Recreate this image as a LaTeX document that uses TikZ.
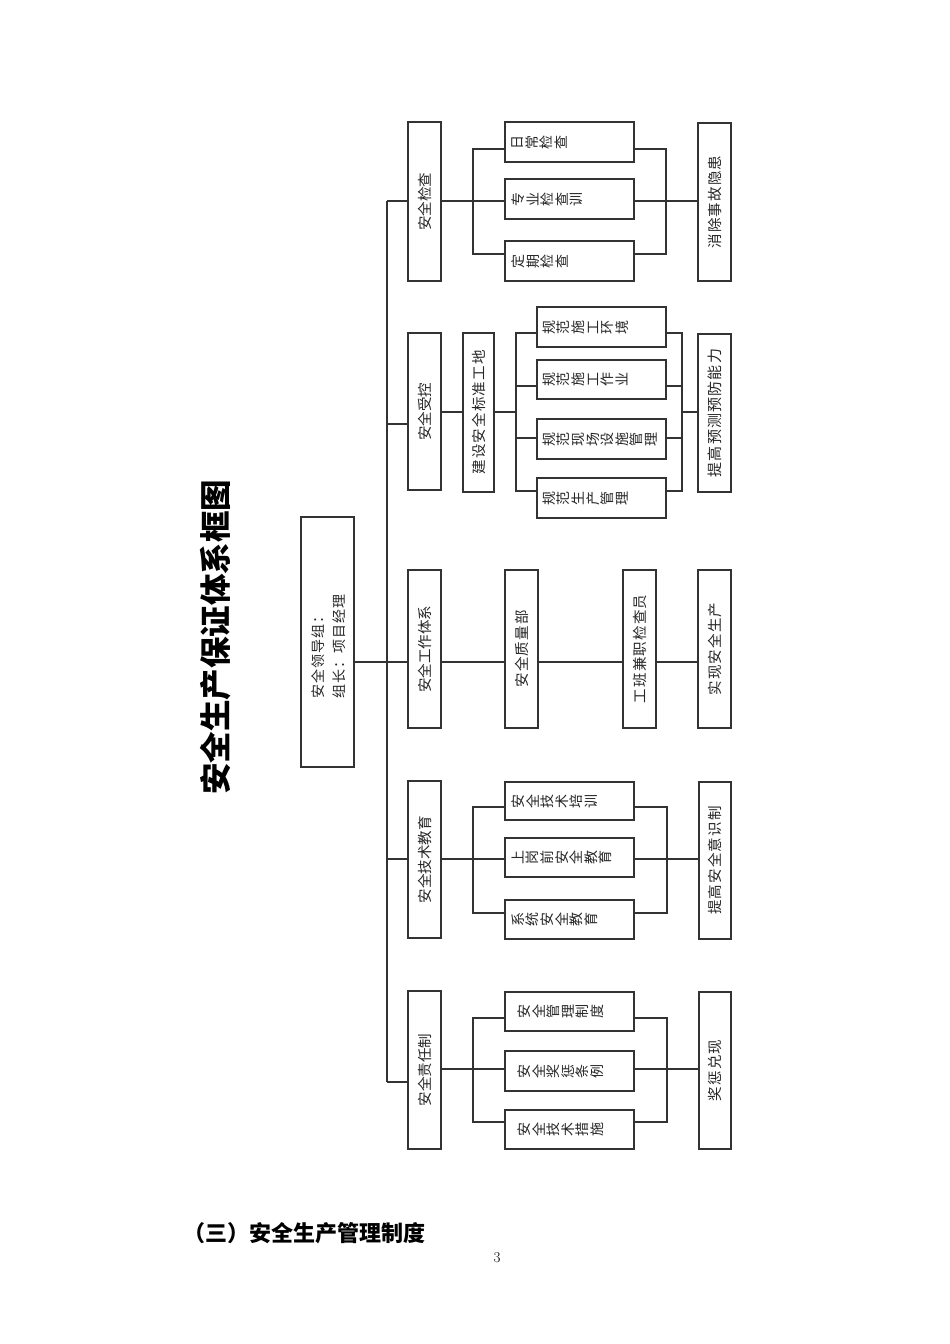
\documentclass[tikz,border=0pt]{standalone}
\usepackage{fontspec}
\usetikzlibrary{calc}
\newfontfamily\cjk{Noto Sans CJK SC}
\newfontfamily\cjkls{Noto Sans CJK SC}[LetterSpace=8]
\newcommand\bx[5]{\node[box, minimum width={#4-#2}, minimum height={#5-#3}] (#1) at ({(#2+#4)/2},{(#3+#5)/2}) {};}
\newcommand\stk[3]{\node[stk, anchor=north] (#1t) at ($(#1.west)+(#2,0)$) {#3};}
\tikzset{
  box/.style={draw=black!80, line width=1.1pt, inner sep=0pt, fill=white},
  rd/.style={rotate=90, inner sep=0pt, font=\cjk\fontsize{14.5}{14.5}\selectfont, text=black!85},
  rdl/.style={rotate=90, inner sep=0pt, font=\cjkls\fontsize{14.5}{14.5}\selectfont, text=black!85},
  stk/.style={rotate=90, inner sep=0pt, align=center, font=\cjk\fontsize{14}{14.6}\selectfont, text=black!85},
  ln/.style={draw=black!80, line width=1.1pt}
}
\begin{document}
\begin{tikzpicture}[x=1pt, y=-1pt]
\fill[white] (0,0) rectangle (950,1344);
\useasboundingbox (0,0) rectangle (950,1344);

% title
\node[rotate=90, inner sep=0pt, font=\cjk\bfseries\fontsize{31.5}{31.5}\selectfont] (title) at (216,637) {安全生产保证体系框图};

% leader
\bx{lead}{301}{517}{354}{767}
\node[rotate=90, align=left, anchor=west, inner sep=0pt, font=\cjkls\fontsize{14}{21}\selectfont, text=black!85] (leadt) at (328.5,699) {安全领导组：\\组长：项目经理};

% level 1
\bx{jc}{408}{122}{441}{281}
\bx{sk}{408}{333}{441}{490}
\bx{gz}{408}{570}{441}{728}
\bx{jy}{408}{781}{441}{938}
\bx{zr}{408}{991}{441}{1149}
\node[rd] (jct) at (jc) {安全检查};
\node[rd] (skt) at (sk) {安全受控};
\node[rd] (gzt) at (gz) {安全工作体系};
\node[rd] (jyt) at (jy) {安全技术教育};
\node[rd] (zrt) at (zr) {安全责任制};

% safety check group
\bx{jc1}{505}{122}{634}{162}
\bx{jc2}{505}{179}{634}{219}
\bx{jc3}{505}{241}{634}{281}
\stk{jc1}{7}{日\\常\\检\\查}
\stk{jc2}{7}{专\\业\\检\\查\\训}
\stk{jc3}{7}{定\\期\\检\\查}

% safety control group
\bx{jb}{463}{333}{494}{492}
\node[rdl] (jbt) at (jb) {建设安全标准工地};
\bx{sk1}{537}{307}{666}{347}
\bx{sk2}{537}{360}{666}{399}
\bx{sk3}{537}{419}{666}{459}
\bx{sk4}{537}{478}{666}{518}
\stk{sk1}{6}{规\\范\\施\\工\\环\\境}
\stk{sk2}{6}{规\\范\\施\\工\\作\\业}
\stk{sk3}{6}{规\\范\\现\\场\\设\\施\\管\\理}
\stk{sk4}{6}{规\\范\\生\\产\\管\\理}

% work system group
\bx{gq}{505}{570}{538}{728}
\bx{gb}{623}{570}{656}{728}
\node[rdl] (gqt) at (gq) {安全质量部};
\node[rdl] (gbt) at (gb) {工班兼职检查员};

% education group
\bx{jy1}{505}{782}{634}{820}
\bx{jy2}{505}{838}{634}{877}
\bx{jy3}{505}{900}{634}{939}
\stk{jy1}{7}{安\\全\\技\\术\\培\\训}
\stk{jy2}{7}{上\\岗\\前\\安\\全\\教\\育}
\stk{jy3}{7}{系\\统\\安\\全\\教\\育}

% responsibility group
\bx{zr1}{505}{992}{634}{1031}
\bx{zr2}{505}{1051}{634}{1091}
\bx{zr3}{505}{1110}{634}{1149}
\stk{zr1}{13}{安\\全\\管\\理\\制\\度}
\stk{zr2}{13}{安\\全\\奖\\惩\\条\\例}
\stk{zr3}{13}{安\\全\\技\\术\\措\\施}

% results
\bx{r1}{698}{123}{731}{281}
\bx{r2}{698}{334}{731}{492}
\bx{r3}{698}{570}{731}{728}
\bx{r4}{699}{782}{731}{939}
\bx{r5}{699}{992}{731}{1149}
\node[rdl] (r1t) at (r1) {消除事故隐患};
\node[rdl, font=\cjkls\fontsize{15}{15}\selectfont] (r2t) at (r2) {提高预测预防能力};
\node[rdl] (r3t) at (r3) {实现安全生产};
\node[rdl] (r4t) at (r4) {提高安全意识制};
\node[rdl] (r5t) at (r5) {奖惩兑现};

% trunk
\coordinate (T0) at (387,201);
\coordinate (T1) at (387,424);
\coordinate (T2) at (387,662);
\coordinate (T3) at (387,859);
\coordinate (T4) at (387,1082);
\draw[ln] (T0) -- (T4);
\draw[ln] (T0) -- (jc.west |- T0);
\draw[ln] (T1) -- (sk.west |- T1);
\draw[ln] (lead.east |- T2) -- (gz.west |- T2);
\draw[ln] (T3) -- (jy.west |- T3);
\draw[ln] (T4) -- (zr.west |- T4);

% check brackets
\coordinate (A0) at (473,201); \coordinate (A1) at (473,149); \coordinate (A3) at (473,254);
\draw[ln] (jc.east |- A0) -- (A0);
\draw[ln] (jc1.west |- A1) -- (A1) -- (A3) -- (jc3.west |- A3);
\draw[ln] (A0) -- (jc2.west |- A0);
\coordinate (B0) at (666,201); \coordinate (B1) at (666,149); \coordinate (B3) at (666,254);
\draw[ln] (jc1.east |- B1) -- (B1) -- (B3) -- (jc3.east |- B3);
\draw[ln] (jc2.east |- B0) -- (r1.west |- B0);

% control brackets
\coordinate (C0) at (516,412); \coordinate (C1) at (516,333); \coordinate (C2) at (516,386);
\coordinate (C3) at (516,438); \coordinate (C4) at (516,491);
\draw[ln] (sk.east |- C0) -- (jb.west |- C0);
\draw[ln] (jb.east |- C0) -- (C0);
\draw[ln] (sk1.west |- C1) -- (C1) -- (C4) -- (sk4.west |- C4);
\draw[ln] (C2) -- (sk2.west |- C2);
\draw[ln] (C3) -- (sk3.west |- C3);
\coordinate (D0) at (682,412); \coordinate (D1) at (682,333); \coordinate (D2) at (682,386);
\coordinate (D3) at (682,438); \coordinate (D4) at (682,491);
\draw[ln] (sk1.east |- D1) -- (D1) -- (D4) -- (sk4.east |- D4);
\draw[ln] (sk2.east |- D2) -- (D2);
\draw[ln] (sk3.east |- D3) -- (D3);
\draw[ln] (D0) -- (r2.west |- D0);

% work system chain
\draw[ln] (gz.east |- T2) -- (gq.west |- T2);
\draw[ln] (gq.east |- T2) -- (gb.west |- T2);
\draw[ln] (gb.east |- T2) -- (r3.west |- T2);

% education brackets
\coordinate (E0) at (473,859); \coordinate (E1) at (473,807); \coordinate (E3) at (473,913);
\draw[ln] (jy.east |- E0) -- (jy2.west |- E0);
\draw[ln] (jy1.west |- E1) -- (E1) -- (E3) -- (jy3.west |- E3);
\coordinate (F0) at (667,859); \coordinate (F1) at (667,807); \coordinate (F3) at (667,913);
\draw[ln] (jy1.east |- F1) -- (F1) -- (F3) -- (jy3.east |- F3);
\draw[ln] (jy2.east |- F0) -- (r4.west |- F0);

% responsibility brackets
\coordinate (H0) at (473,1069); \coordinate (H1) at (473,1018); \coordinate (H3) at (473,1122);
\draw[ln] (zr.east |- H0) -- (zr2.west |- H0);
\draw[ln] (zr1.west |- H1) -- (H1) -- (H3) -- (zr3.west |- H3);
\coordinate (K0) at (667,1069); \coordinate (K1) at (667,1018); \coordinate (K3) at (667,1122);
\draw[ln] (zr1.east |- K1) -- (K1) -- (K3) -- (zr3.east |- K3);
\draw[ln] (zr2.east |- K0) -- (r5.west |- K0);

% footer
\node[anchor=west, inner sep=0pt, font=\cjk\bfseries\fontsize{22}{22}\selectfont] (sec) at (183,1233) {（三）安全生产管理制度};
\node[inner sep=0pt, font=\fontsize{15}{15}\selectfont] (pg) at (497,1258) {3};
\end{tikzpicture}
\end{document}
